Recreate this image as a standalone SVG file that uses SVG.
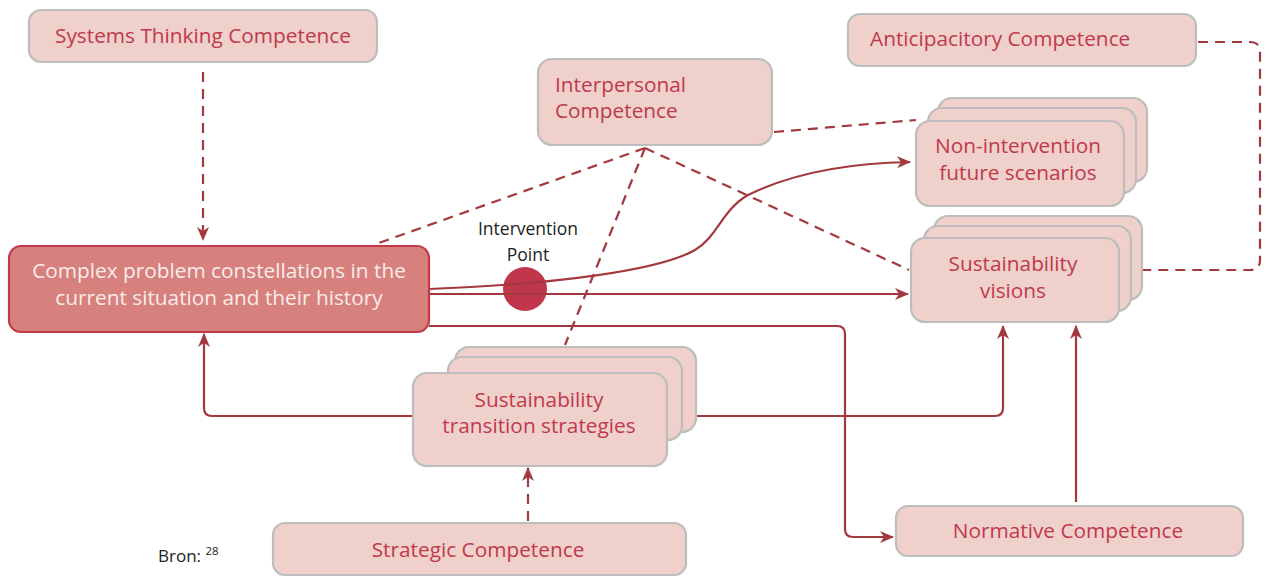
<svg xmlns="http://www.w3.org/2000/svg" width="1269" height="577" viewBox="0 0 1269 577">
  <style>
    .box { fill: #efd0cb; stroke: #bdbdbd; stroke-width: 2.2; }
    .lbl { font-family: "Open Sans", "Noto Sans", sans-serif; font-size: 20.8px; fill: #c0394b; }
    .mid { text-anchor: middle; }
    .link { fill: none; stroke: #a3393f; stroke-width: 2.2; }
    .dash { fill: none; stroke: #a3393f; stroke-width: 2.2; stroke-dasharray: 10 7; }
    .note { font-family: "Open Sans", "Noto Sans", sans-serif; fill: #222; }
  </style>
  <defs>
    <marker id="arrow" markerUnits="userSpaceOnUse" markerWidth="14" markerHeight="12" refX="13" refY="6" orient="auto">
      <path d="M0,0 L14,6 L0,12 L4,6 z" fill="#a3393f"/>
    </marker>
  </defs>
  <rect width="1269" height="577" fill="#ffffff"/>

  <!-- intervention point marker sits beneath the connectors -->
  <g id="intervention-point">
    <circle cx="525" cy="289" r="22" fill="#c0364a"/>
    <text class="note mid" x="528" y="235" font-size="17.5">Intervention</text>
    <text class="note mid" x="528" y="261" font-size="17.5">Point</text>
  </g>

  <g id="connectors">
    <!-- competence links (dashed) -->
    <line class="dash" x1="203" y1="72" x2="203" y2="240" marker-end="url(#arrow)"/>
    <line class="dash" x1="528" y1="521" x2="528" y2="468" marker-end="url(#arrow)"/>
    <path class="dash" d="M645,148 L376,244"/>
    <path class="dash" d="M645,148 L565,345"/>
    <path class="dash" d="M645,148 L909,270"/>
    <path class="dash" d="M774,132 L916,120"/>
    <path class="dash" d="M1198,42 L1250,42 Q1260,42 1260,52 L1260,260 Q1260,270 1250,270 L1142,270"/>
    <!-- process flows -->
    <path class="link" d="M429,289 C560,284 660,270 695,250 C718,236 722,210 748,195 C795,172 850,163 910,162" marker-end="url(#arrow)"/>
    <line class="link" x1="429" y1="294" x2="908" y2="294" marker-end="url(#arrow)"/>
    <path class="link" d="M429,326 L837,326 Q845,326 845,334 L845,529 Q845,537 853,537 L893,537" marker-end="url(#arrow)"/>
    <path class="link" d="M667,416 L995,416 Q1003,416 1003,408 L1003,326" marker-end="url(#arrow)"/>
    <line class="link" x1="1076" y1="502" x2="1076" y2="326" marker-end="url(#arrow)"/>
    <path class="link" d="M413,416 L212,416 Q204,416 204,408 L204,334" marker-end="url(#arrow)"/>
  </g>

  <g id="systems-thinking">
    <rect class="box" x="29" y="10" width="348" height="52" rx="12"/>
    <text class="lbl mid" x="203" y="43">Systems Thinking Competence</text>
  </g>

  <g id="complex-problem">
    <rect x="9" y="246" width="420" height="86" rx="12" fill="#d6817e" stroke="#c33a4a" stroke-width="2.2"/>
    <text class="lbl mid" x="219" y="278" style="fill:#fbece9">Complex problem constellations in the</text>
    <text class="lbl mid" x="219" y="305" style="fill:#fbece9">current situation and their history</text>
  </g>

  <g id="interpersonal">
    <rect class="box" x="538" y="59" width="234" height="86" rx="14"/>
    <text class="lbl" x="555" y="92">Interpersonal</text>
    <text class="lbl" x="555" y="118">Competence</text>
  </g>

  <g id="anticipatory">
    <rect class="box" x="848" y="14" width="348" height="52" rx="12"/>
    <text class="lbl" x="870" y="46">Anticipacitory Competence</text>
  </g>

  <g id="non-intervention">
    <rect class="box" x="938" y="98" width="209" height="84" rx="14"/>
    <rect class="box" x="928" y="108" width="208" height="85" rx="14"/>
    <rect class="box" x="916" y="121" width="208" height="85" rx="14"/>
    <text class="lbl mid" x="1018" y="153">Non-intervention</text>
    <text class="lbl mid" x="1018" y="180">future scenarios</text>
  </g>

  <g id="visions">
    <rect class="box" x="934" y="216" width="208" height="84" rx="14"/>
    <rect class="box" x="924" y="226" width="207" height="85" rx="14"/>
    <rect class="box" x="911" y="238" width="208" height="84" rx="14"/>
    <text class="lbl mid" x="1013" y="271">Sustainability</text>
    <text class="lbl mid" x="1013" y="298">visions</text>
  </g>

  <g id="transition-strategies">
    <rect class="box" x="455" y="347" width="241" height="85" rx="14"/>
    <rect class="box" x="448" y="357" width="234" height="83" rx="14"/>
    <rect class="box" x="413" y="373" width="254" height="93" rx="14"/>
    <text class="lbl mid" x="539" y="407">Sustainability</text>
    <text class="lbl mid" x="539" y="433">transition strategies</text>
  </g>

  <g id="strategic">
    <rect class="box" x="273" y="523" width="413" height="52" rx="12"/>
    <text class="lbl mid" x="478" y="557">Strategic Competence</text>
  </g>

  <g id="normative">
    <rect class="box" x="896" y="506" width="347" height="50" rx="12"/>
    <text class="lbl mid" x="1068" y="538">Normative Competence</text>
  </g>

  <g id="source">
    <text class="note" x="158" y="562" font-size="17">Bron: <tspan font-size="11.5" dy="-7">28</tspan></text>
  </g>
</svg>
